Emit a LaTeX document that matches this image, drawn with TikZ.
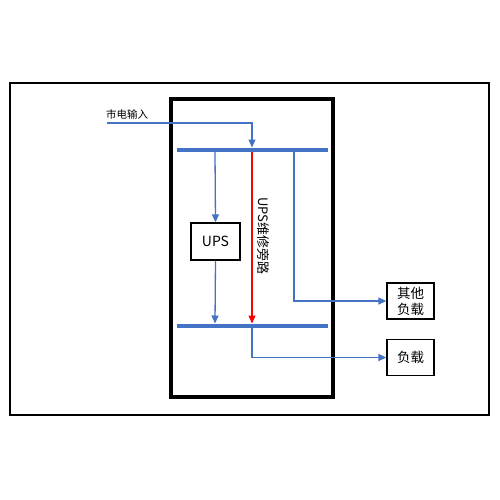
\documentclass[tikz,border=0pt]{standalone}
\usepackage{fontspec}
\setmainfont{Noto Sans CJK SC}
\usetikzlibrary{arrows.meta}
\definecolor{cblue}{HTML}{4472C4}
\tikzset{
  wire/.style={draw=cblue, line width=1.3pt},
  arr/.style={-{Triangle[length=8pt,width=7pt]}},
  bus/.style={draw=cblue, line width=4.5pt},
  loadbox/.style={draw, line width=1.3pt, minimum width=47pt, minimum height=36pt, inner sep=1pt, align=center, font=\fontsize{13.5}{16}\selectfont},
}
\begin{document}
\begin{tikzpicture}[x=1pt,y=-1pt]
\useasboundingbox (0,0) rectangle (500,500);
% outer frame
\draw[line width=1.3pt] (10,83) rectangle (489,415);
% cabinet
\draw[line width=4pt] (171,99) rectangle (333,397);
% buses
\coordinate (b1l) at (177,150); \coordinate (b1r) at (328,150);
\coordinate (b2l) at (177,326); \coordinate (b2r) at (328,326);
\draw[bus] (b1l) -- (b1r);
\draw[bus] (b2l) -- (b2r);
% input
\coordinate (in) at (107,123);
\node[anchor=south west, inner sep=1pt, font=\fontsize{10.5}{12}\selectfont] (inlabel) at (105,121) {市电输入};
\coordinate (t1) at (252,147.5);
\draw[wire, arr] (in) -| (t1);
% UPS
\node[draw, line width=1.3pt, minimum width=49pt, minimum height=37pt, font=\fontsize{14}{16}\selectfont] (ups) at (215.5,241.5) {UPS};
\coordinate (u1) at (215,152);
\draw[wire, arr] (u1) -- (ups.north);
\coordinate (u2) at (215,323.5);
\draw[wire, arr] (ups.south) -- (u2);
% bypass
\coordinate (r1) at (252,152);
\coordinate (r2) at (252,323.5);
\draw[red, line width=1.3pt, arr] (r1) -- (r2);
\node[rotate=-90, font=\fontsize{13}{15}\selectfont, inner sep=0pt] (bypass) at (263,236) {UPS维修旁路};
% loads
\node[loadbox] (other) at (410.5,301) {其他\\负载};
\node[loadbox] (load) at (410.5,357.5) {负载};
\coordinate (o1) at (294,152);
\draw[wire, arr] (o1) |- (other.west);
\coordinate (l1) at (252,328);
\draw[wire, arr] (l1) |- (load.west);
\end{tikzpicture}
\end{document}
